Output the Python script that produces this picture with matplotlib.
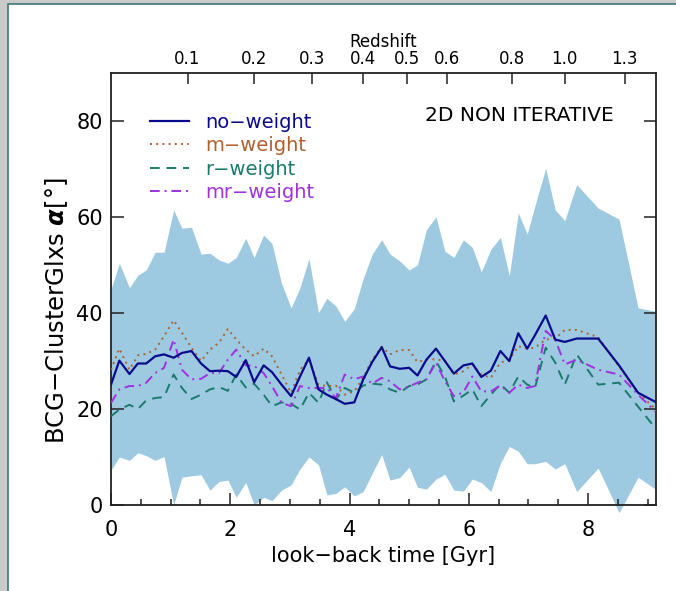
import numpy as np
import matplotlib
matplotlib.use("Agg")
import matplotlib.pyplot as plt
from matplotlib.patches import Rectangle

# ---------------- data ----------------
time_gyr = [0.00, 0.14, 0.31, 0.45, 0.59, 0.74, 0.89, 1.05, 1.19, 1.35,
            1.51, 1.66, 1.81, 1.96, 2.10, 2.26, 2.40, 2.56, 2.70, 2.86,
            3.02, 3.17, 3.32, 3.48, 3.62, 3.77, 3.92, 4.08, 4.23, 4.38,
            4.54, 4.68, 4.84, 5.00, 5.14, 5.29, 5.45, 5.60, 5.75, 5.91,
            6.06, 6.21, 6.37, 6.53, 6.68, 6.83, 6.98, 7.11, 7.29, 7.45,
            7.61, 7.81, 8.17, 8.52, 8.84, 9.13]

band_upper = [45.0, 50.4, 45.3, 47.9, 49.0, 52.7, 52.7, 61.5, 57.7, 57.9,
              52.3, 52.5, 51.1, 50.4, 51.6, 55.6, 51.6, 56.3, 54.5, 46.2,
              41.1, 45.3, 51.4, 40.1, 43.1, 41.5, 38.3, 40.9, 47.2, 52.3,
              55.3, 52.3, 50.9, 49.0, 50.1, 57.4, 60.1, 52.9, 51.6, 55.3,
              53.7, 48.6, 53.3, 55.8, 47.8, 60.9, 56.5, 62.4, 70.2, 61.5,
              59.3, 66.8, 61.9, 59.6, 41.1, 40.4]

band_lower = [7.3, 10.0, 9.3, 10.9, 10.3, 9.3, 10.1, 0.0, 5.8, 6.1,
              6.3, 3.1, 4.9, 5.2, 1.6, 4.7, 0.0, 1.6, 0.9, 3.1,
              4.2, 7.5, 10.0, 8.4, 2.1, 2.4, 3.8, 1.9, 2.8, 6.6,
              10.5, 5.2, 5.7, 7.9, 3.7, 3.3, 5.4, 6.4, 3.1, 2.9,
              5.4, 4.7, 2.8, 8.7, 12.2, 11.2, 8.6, 8.6, 9.1, 7.5,
              8.6, 2.8, 7.7, -1.6, 5.8, 3.3]

no_weight = [25.1, 30.1, 27.3, 29.5, 29.5, 31.0, 31.4, 30.7, 31.7, 32.1,
             29.5, 27.9, 28.0, 27.9, 26.7, 30.2, 25.6, 29.1, 27.7, 25.1,
             22.7, 26.8, 30.7, 24.1, 23.0, 22.1, 21.1, 21.4, 26.2, 29.8,
             32.9, 28.9, 28.4, 28.6, 27.0, 30.3, 32.6, 30.0, 27.4, 29.1,
             29.5, 26.7, 28.0, 32.1, 30.0, 35.8, 32.6, 35.4, 39.5, 34.5,
             34.0, 34.7, 34.7, 29.1, 23.4, 21.5]

m_weight = [28.2, 32.6, 28.2, 31.2, 31.5, 32.4, 35.2, 38.5, 35.9, 32.8,
            30.0, 32.4, 33.8, 36.7, 34.5, 32.4, 31.0, 32.6, 31.0, 27.2,
            23.4, 28.2, 30.3, 25.1, 24.8, 24.9, 23.0, 23.7, 26.5, 30.3,
            33.0, 31.4, 32.3, 32.3, 29.8, 30.3, 30.4, 30.0, 27.2, 27.9,
            29.3, 27.2, 26.5, 29.7, 30.3, 33.1, 32.6, 32.8, 34.5, 34.7,
            36.5, 36.5, 35.0, 28.9, 23.4, 20.0]

r_weight = [18.5, 19.9, 20.9, 20.0, 21.8, 22.3, 22.5, 27.2, 24.4, 22.1,
            23.0, 24.1, 24.6, 23.8, 27.2, 24.5, 25.3, 23.0, 20.6, 21.4,
            21.1, 19.9, 23.4, 21.3, 25.6, 22.0, 24.4, 23.4, 24.9, 25.3,
            25.1, 24.1, 23.4, 24.8, 25.1, 26.2, 30.0, 26.8, 21.6, 22.8,
            24.1, 20.6, 23.0, 25.2, 23.4, 26.8, 25.1, 24.4, 32.8, 29.7,
            25.1, 31.4, 25.1, 25.5, 20.5, 16.0]

mr_weight = [21.3, 24.1, 24.8, 24.8, 25.5, 27.5, 28.6, 34.5, 28.2, 26.2,
             26.3, 27.5, 27.5, 30.3, 32.4, 29.1, 29.0, 27.5, 24.8, 21.3,
             20.6, 24.8, 24.4, 24.4, 24.4, 22.3, 27.2, 26.2, 26.8, 25.3,
             26.5, 25.8, 24.1, 24.7, 25.5, 26.2, 29.7, 25.8, 22.7, 23.5,
             26.8, 23.7, 23.7, 24.9, 23.4, 25.1, 24.4, 24.8, 36.3, 34.5,
             29.3, 30.3, 28.2, 27.2, 23.0, 19.5]

series_labels = ["no\u2212weight", "m\u2212weight", "r\u2212weight", "mr\u2212weight"]
redshift_ticks = [0.1, 0.2, 0.3, 0.4, 0.5, 0.6, 0.8, 1.0, 1.3]
redshift_ticklabels = ["0.1", "0.2", "0.3", "0.4", "0.5", "0.6", "0.8", "1.0", "1.3"]

# ---------------- style ----------------
FONT = "DejaVu Sans"
plt.rcParams["font.family"] = [FONT]
plt.rcParams["mathtext.fontset"] = "dejavusans"

fill_color = "#9ecae1"
c_no = "#0a0a8c"
c_m = "#b0602c"
c_r = "#1a7a6e"
c_mr = "#a030e0"
frame_color = "#222222"

fig = plt.figure(figsize=(6.76, 5.91), dpi=100)
fig.patch.set_facecolor("#cacaca")
# white window area with teal edge (screenshot border)
fig.patches.append(Rectangle((8 / 676, -0.01), 1.0, 1 - 4 / 591 + 0.01,
                             transform=fig.transFigure, facecolor="white",
                             edgecolor="#3b7875", linewidth=1.2, zorder=-10))

ax = fig.add_axes([111 / 676, 1 - 505 / 591, (656 - 111) / 676, (505 - 73.3) / 591])
ax.set_facecolor("none")

t = np.array(time_gyr)
ax.fill_between(t, band_lower, band_upper, color=fill_color, linewidth=0,
                clip_on=False, zorder=1)

ax.plot(t, no_weight, color=c_no, lw=1.6, ls="-", label=series_labels[0], zorder=5)
ax.plot(t, m_weight, color=c_m, lw=1.4, ls=(0, (1, 2.2)), label=series_labels[1], zorder=4)
ax.plot(t, r_weight, color=c_r, lw=1.4, ls=(0, (5, 3.5)), label=series_labels[2], zorder=3)
ax.plot(t, mr_weight, color=c_mr, lw=1.4, ls=(0, (5, 2.5, 1, 2.5)), label=series_labels[3], zorder=3)

ax.set_xlim(0, 9.14)
ax.set_ylim(0, 90)

ax.set_xticks([0, 2, 4, 6, 8])
ax.set_xticks(np.arange(0.5, 9.1, 0.5), minor=True)
ax.set_yticks([0, 20, 40, 60, 80])
ax.set_yticks(np.arange(0, 91, 5), minor=True)

for s in ax.spines.values():
    s.set_color(frame_color)
    s.set_linewidth(1.3)

ax.tick_params(axis="both", which="major", direction="in", length=9, width=1.1,
               color=frame_color, labelsize=15, labelcolor="black")
ax.tick_params(axis="both", which="minor", direction="in", length=4.5, width=1.1,
               color=frame_color)
ax.tick_params(axis="x", which="both", top=False, bottom=True, pad=11)
ax.tick_params(axis="y", which="both", left=True, right=True, pad=6)

ax.set_xlabel("look\u2212back time [Gyr]", fontsize=15, labelpad=4)
ax.set_ylabel("BCG\u2212ClusterGlxs $\\boldsymbol{\\alpha}$[\u00b0]", fontsize=17.5, labelpad=2)
ax.yaxis.set_label_coords(-0.076, 0.45)

# ---------------- redshift axis (top) ----------------
H0 = 71.0
Om = 0.3
hubble_time = 977.8 / H0  # Gyr


def lookback(z):
    zz = np.linspace(0, z, 2001)
    integrand = 1.0 / ((1 + zz) * np.sqrt(Om * (1 + zz) ** 3 + (1 - Om)))
    return hubble_time * np.trapezoid(integrand, zz)


ax2 = ax.twiny()
ax2.set_xlim(ax.get_xlim())
ax2.set_xticks([lookback(z) for z in redshift_ticks])
ax2.set_xticklabels(redshift_ticklabels)
ax2.tick_params(axis="x", which="major", direction="in", length=8, width=1.1,
                color=frame_color, labelsize=12, pad=4)
ax2.minorticks_off()
ax2.set_xlabel("Redshift", fontsize=12, labelpad=2)
for s in ax2.spines.values():
    s.set_visible(False)

# ---------------- legend and annotation ----------------
leg = ax.legend(loc="upper left", bbox_to_anchor=(0.058, 0.926), frameon=False,
                fontsize=14, handlelength=2.0, handletextpad=0.8,
                labelspacing=0.22, borderaxespad=0)
for txt, col in zip(leg.get_texts(), [c_no, c_m, c_r, c_mr]):
    txt.set_color(col)

ax.text(0.749, 0.903, "2D NON ITERATIVE", transform=ax.transAxes,
        ha="center", va="center", fontsize=14.5, color="black")

fig.savefig("out.png", dpi=100, facecolor=fig.get_facecolor())
